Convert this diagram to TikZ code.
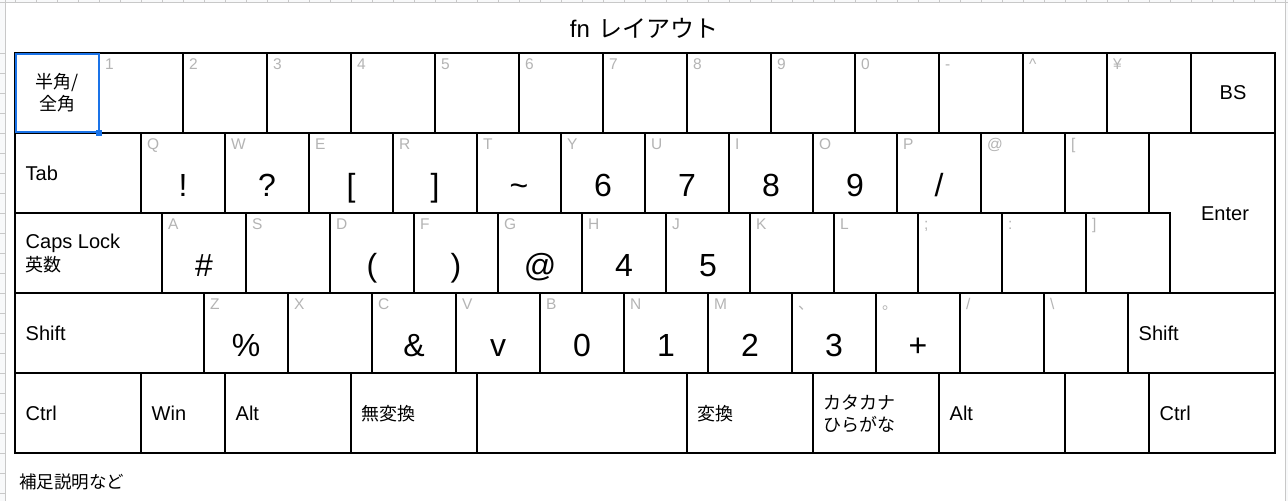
\documentclass[tikz,border=0pt]{standalone}
\usepackage{fontspec}
\setmainfont{Liberation Sans}
\newfontfamily\jp{Noto Sans CJK JP}
\definecolor{subgray}{HTML}{B4B4B4}
\definecolor{selblue}{HTML}{1A73E8}
\definecolor{gridgray}{HTML}{C8C8C8}
\definecolor{stripfill}{HTML}{F8F9FA}
\tikzset{
  keybox/.style={draw=black, line width=2pt, rectangle, inner sep=0pt, outer sep=0pt, minimum height=80pt, anchor=north west},
  sublbl/.style={text=subgray, font=\fontsize{15.5}{18}\selectfont, inner sep=0pt, anchor=base west},
  biglbl/.style={font=\fontsize{32}{36}\selectfont, inner sep=0pt, anchor=base},
  modlbl/.style={font=\fontsize{20}{24}\selectfont, inner sep=0pt, anchor=base west},
  jplbl/.style={font=\jp\fontsize{18}{21.5}\selectfont, inner sep=0pt, anchor=west, align=left},
}
\newcommand\kbk[4]{\node[keybox, minimum width={(#3-#2)*1pt}] (#1) at (#2,#4) {};}
\newcommand\kbsub[2]{\node[sublbl] at ([xshift=6pt,yshift=-16.5pt]#1.north west) {#2};}
\newcommand\kbbig[2]{\node[biglbl] at ([yshift=-63pt]#1.north) {#2};}
\newcommand\kbmod[2]{\node[modlbl] at ([xshift=10.5pt,yshift=-47pt]#1.north west) {#2};}
\newcommand\kbjp[2]{\node[jplbl] at ([xshift=10pt,yshift=-41pt]#1.north west) {#2};}
\begin{document}
\begin{tikzpicture}[x=1pt,y=-1pt]
\useasboundingbox (0,0) rectangle (1288,501);
\fill[white] (0,0) rectangle (1288,501);
% spreadsheet margins
\fill[stripfill] (0,0) rectangle (1288,2.5);
\fill[stripfill] (0,0) rectangle (5,501);
\fill[stripfill] (1285,0) rectangle (1288,501);
\foreach \k in {0,...,60} \draw[gridgray, line width=0.8pt] ({15+21*\k},0) -- ({15+21*\k},2.5);
\draw[gridgray, line width=0.8pt] (0,2.5) -- (1288,2.5);
\draw[gridgray, line width=0.8pt] (5,0) -- (5,501);
\draw[gridgray, line width=0.8pt] (1285,0) -- (1285,501);
\foreach \k in {0,...,22} \draw[gridgray, line width=0.8pt] (0,{53+20*\k}) -- (5,{53+20*\k});
% title
\node[font=\fontsize{24}{28}\selectfont, anchor=base, inner sep=0pt] (title) at (644,37) {fn\hspace{8pt}{\jp レイアウト}};
% row 1
\kbk{hz}{15}{99}{53}
\node[font=\jp\fontsize{18}{22}\selectfont, align=center, inner sep=0pt] (hzl) at (hz.center) {半角/\\全角};
\kbk{k1}{99}{183}{53} \kbsub{k1}{1}
\kbk{k2}{183}{267}{53} \kbsub{k2}{2}
\kbk{k3}{267}{351}{53} \kbsub{k3}{3}
\kbk{k4}{351}{435}{53} \kbsub{k4}{4}
\kbk{k5}{435}{519}{53} \kbsub{k5}{5}
\kbk{k6}{519}{603}{53} \kbsub{k6}{6}
\kbk{k7}{603}{687}{53} \kbsub{k7}{7}
\kbk{k8}{687}{771}{53} \kbsub{k8}{8}
\kbk{k9}{771}{855}{53} \kbsub{k9}{9}
\kbk{k0}{855}{939}{53} \kbsub{k0}{0}
\kbk{kminus}{939}{1023}{53} \kbsub{kminus}{-}
\kbk{kcaret}{1023}{1107}{53} \kbsub{kcaret}{\textasciicircum}
\kbk{kyen}{1107}{1191}{53} \kbsub{kyen}{¥}
\kbk{kbs}{1191}{1275}{53}
\node[font=\fontsize{20}{24}\selectfont, inner sep=0pt] (bsl) at (kbs.center) {BS};
% row 2
\kbk{tab}{15}{141}{133} \kbmod{tab}{Tab}
\kbk{kq}{141}{225}{133} \kbsub{kq}{Q} \kbbig{kq}{!}
\kbk{kw}{225}{309}{133} \kbsub{kw}{W} \kbbig{kw}{?}
\kbk{ke}{309}{393}{133} \kbsub{ke}{E} \kbbig{ke}{[}
\kbk{kr}{393}{477}{133} \kbsub{kr}{R} \kbbig{kr}{]}
\kbk{kt}{477}{561}{133} \kbsub{kt}{T} \kbbig{kt}{\textasciitilde}
\kbk{ky}{561}{645}{133} \kbsub{ky}{Y} \kbbig{ky}{6}
\kbk{ku}{645}{729}{133} \kbsub{ku}{U} \kbbig{ku}{7}
\kbk{ki}{729}{813}{133} \kbsub{ki}{I} \kbbig{ki}{8}
\kbk{ko}{813}{897}{133} \kbsub{ko}{O} \kbbig{ko}{9}
\kbk{kp}{897}{981}{133} \kbsub{kp}{P} \kbbig{kp}{/}
\kbk{kat}{981}{1065}{133} \kbsub{kat}{@}
\kbk{klb}{1065}{1149}{133} \kbsub{klb}{[}
\draw[line width=2pt] (1149,133) -- (1275,133) -- (1275,293) -- (1170,293) -- (1170,213) -- (1149,213) -- cycle;
\node[font=\fontsize{20}{24}\selectfont, inner sep=0pt] (enter) at (1225,214) {Enter};
% row 3
\kbk{caps}{15}{162}{213}
\node[modlbl] (capsl) at ([xshift=10.5pt,yshift=-35.3pt]caps.north west) {Caps Lock};
\node[jplbl] (eisu) at ([xshift=10.5pt,yshift=-51.5pt]caps.north west) {英数};
\kbk{ka}{162}{246}{213} \kbsub{ka}{A} \kbbig{ka}{\#}
\kbk{ks}{246}{330}{213} \kbsub{ks}{S}
\kbk{kd}{330}{414}{213} \kbsub{kd}{D} \kbbig{kd}{(}
\kbk{kf}{414}{498}{213} \kbsub{kf}{F} \kbbig{kf}{)}
\kbk{kg}{498}{582}{213} \kbsub{kg}{G} \kbbig{kg}{@}
\kbk{kh}{582}{666}{213} \kbsub{kh}{H} \kbbig{kh}{4}
\kbk{kj}{666}{750}{213} \kbsub{kj}{J} \kbbig{kj}{5}
\kbk{kk}{750}{834}{213} \kbsub{kk}{K}
\kbk{kl}{834}{918}{213} \kbsub{kl}{L}
\kbk{ksemi}{918}{1002}{213} \kbsub{ksemi}{;}
\kbk{kcolon}{1002}{1086}{213} \kbsub{kcolon}{:}
\kbk{krb}{1086}{1170}{213} \kbsub{krb}{]}
% row 4
\kbk{shl}{15}{204}{293} \kbmod{shl}{Shift}
\kbk{kz}{204}{288}{293} \kbsub{kz}{Z} \kbbig{kz}{\%}
\kbk{kx}{288}{372}{293} \kbsub{kx}{X}
\kbk{kc}{372}{456}{293} \kbsub{kc}{C} \kbbig{kc}{\&}
\kbk{kv}{456}{540}{293} \kbsub{kv}{V} \kbbig{kv}{v}
\kbk{kb}{540}{624}{293} \kbsub{kb}{B} \kbbig{kb}{0}
\kbk{kn}{624}{708}{293} \kbsub{kn}{N} \kbbig{kn}{1}
\kbk{km}{708}{792}{293} \kbsub{km}{M} \kbbig{km}{2}
\kbk{kcomma}{792}{876}{293} \kbsub{kcomma}{{\jp 、}} \kbbig{kcomma}{3}
\kbk{kperiod}{876}{960}{293} \kbsub{kperiod}{{\jp 。}} \kbbig{kperiod}{+}
\kbk{kslash}{960}{1044}{293} \kbsub{kslash}{/}
\kbk{kbsl}{1044}{1128}{293} \kbsub{kbsl}{\textbackslash}
\kbk{shr}{1128}{1275}{293} \kbmod{shr}{Shift}
% row 5
\kbk{ctl}{15}{141}{373} \kbmod{ctl}{Ctrl}
\kbk{win}{141}{225}{373} \kbmod{win}{Win}
\kbk{altl}{225}{351}{373} \kbmod{altl}{Alt}
\kbk{muh}{351}{477}{373} \kbjp{muh}{無変換}
\kbk{space}{477}{687}{373}
\kbk{hen}{687}{813}{373} \kbjp{hen}{変換}
\kbk{kana}{813}{939}{373} \kbjp{kana}{カタカナ\\ひらがな}
\kbk{altr}{939}{1065}{373} \kbmod{altr}{Alt}
\kbk{blank}{1065}{1149}{373}
\kbk{ctr}{1149}{1275}{373} \kbmod{ctr}{Ctrl}
% selection
\draw[selblue, line width=2pt] (16.3,54.3) rectangle (99,132.3);
\fill[selblue] (95.5,130) rectangle (101.5,136);
% note
\node[font=\jp\fontsize{17.5}{20}\selectfont, inner sep=0pt, anchor=west] (note) at (19,482) {補足説明など};
\end{tikzpicture}
\end{document}
